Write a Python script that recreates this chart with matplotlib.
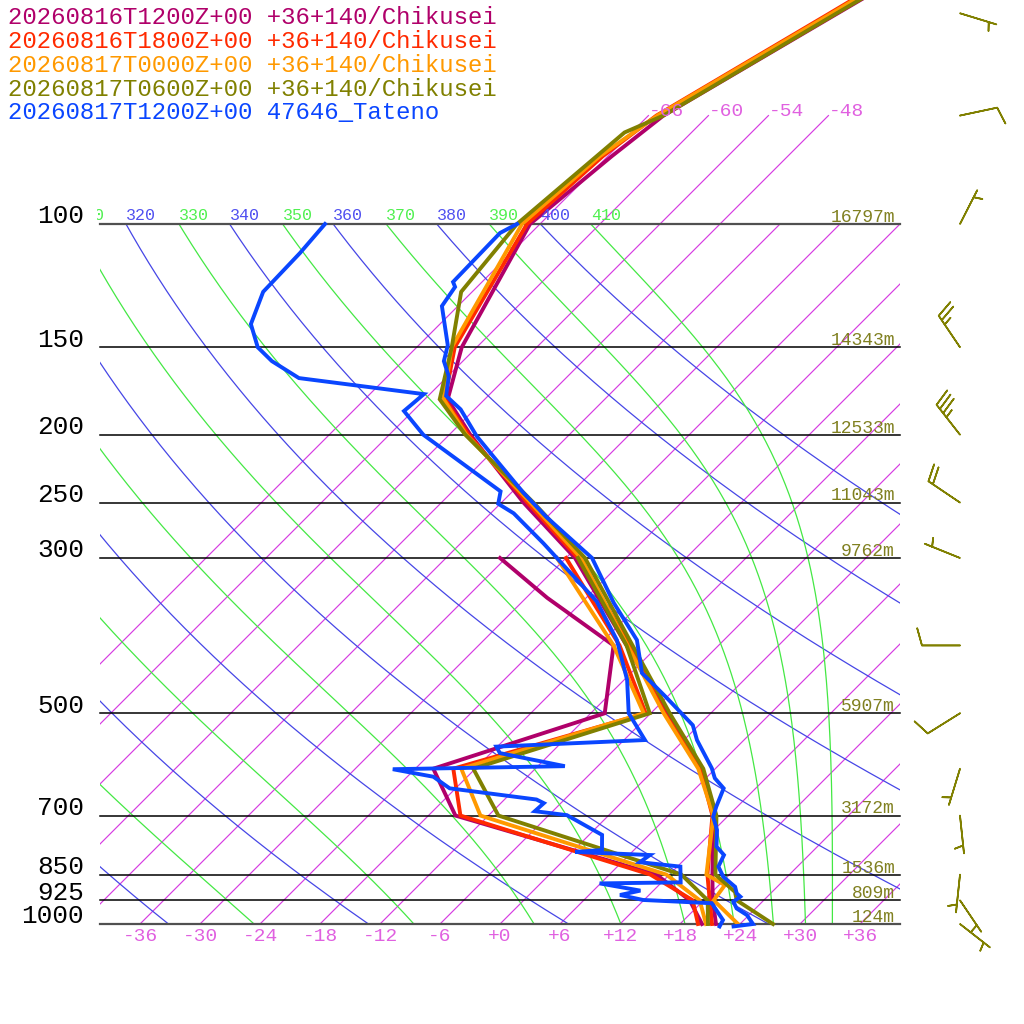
import numpy as np
import matplotlib.pyplot as plt
from matplotlib.transforms import Bbox, TransformedBbox

# sounding data: pressure (hPa) and temperature / dewpoint (deg C)
p_1200 = [1000, 925, 850, 700, 600, 500, 400, 300, 250, 200, 178, 150, 100, 80, 70, 50, 40]
t_1200 = [21.6, 18.9, 16.3, 10.5, 4.7, -4.4, -15.2, -29.1, -39.8, -51.9, -57.7, -61.5, -67.0, -65.6, -64.5, -57.3, -52.5]
pd_1200 = [1000, 925, 850, 700, 600, 500, 400, 342, 300]
td_1200 = [20.2, 16.6, 10.7, -15.3, -22.2, -10.6, -16.5, -27.9, -36.6]

p_1800 = [1000, 925, 850, 700, 600, 500, 400, 300, 250, 200, 178, 150, 100, 80, 70, 50, 40]
t_1800 = [21.2, 18.6, 15.8, 10.4, 4.5, -4.6, -14.9, -28.8, -39.4, -52.1, -58.0, -62.2, -67.3, -66.5, -65.2, -58.1, -53.5]
pd_1800 = [1000, 925, 850, 700, 600, 500, 400, 300]
td_1800 = [19.8, 16.9, 10.1, -14.8, -20.2, -6.5, -15.9, -30.0]

p_0000 = [1000, 925, 880, 850, 700, 600, 500, 400, 300, 250, 200, 178, 150, 100, 80, 70, 50, 40]
t_0000 = [23.8, 19.0, 18.6, 15.7, 10.5, 4.3, -4.7, -15.1, -28.5, -39.1, -52.3, -58.1, -62.5, -67.8, -66.8, -65.1, -57.9, -53.3]
pd_0000 = [1000, 925, 850, 700, 600, 500, 400, 300]
td_0000 = [20.6, 17.6, 11.7, -12.8, -19.4, -6.7, -16.5, -30.9]

p_0600 = [1000, 925, 900, 850, 700, 600, 500, 400, 300, 250, 200, 178, 150, 125, 100, 74, 70, 50, 40]
t_0600 = [27.3, 21.3, 20.3, 16.6, 10.8, 4.8, -4.1, -14.6, -28.1, -38.8, -52.4, -58.5, -62.5, -67.1, -68.3, -66.7, -64.5, -57.4, -52.6]
pd_0600 = [1000, 925, 850, 700, 600, 500, 400, 300]
td_0600 = [20.8, 18.4, 13.2, -11.0, -18.2, -6.1, -15.2, -28.8]

p_obs = [1008, 1000, 971, 950, 929, 914, 904, 885, 856, 828, 797, 775, 734, 703, 680, 640, 619, 599,
         546, 520, 474, 438, 393, 348, 300, 262, 242, 220, 201, 184, 176, 165, 157, 149, 131, 123, 121, 103, 100]
t_obs = [23.6, 25.3, 23.8, 22.1, 21.1, 21.3, 20.6, 19.8, 17.6, 16.1, 15.5, 13.9, 12.3, 10.6, 9.9, 8.8, 6.9, 5.6,
         1.3, -0.6, -6.1, -10.9, -14.7, -20.7, -27.4, -36.1, -40.8, -46.1, -51.1, -55.4, -58.2, -59.9, -61.9, -63.1,
         -67.6, -68.2, -68.9, -69.1, -68.3]
pd_obs = [1008, 987, 934, 924, 909, 896, 875, 872, 828, 816, 797, 789, 784, 746, 699, 690, 672, 664, 640, 616,
          601, 595, 570, 558, 546, 500, 448, 393, 346, 286, 259, 251, 241, 200, 185, 175, 166, 157, 150, 139,
          125, 110, 100]
td_obs = [22.2, 21.9, 19.1, 11.9, 9.1, 10.7, 5.9, 13.9, 12.3, 7.8, 8.1, 0.3, 2.8, 1.3, -4.2, -7.8, -7.7, -8.8,
          -18.6, -21.4, -26.2, -9.3, -17.1, -18.1, -3.9, -8.2, -11.7, -16.7, -22.6, -33.7, -39.7, -42.2, -43.2,
          -56.6, -60.9, -60.6, -74.7, -79.1, -81.9, -84.9, -86.9, -87.1, -87.5]

series_names = ['20260816T1200Z+00 +36+140/Chikusei',
                '20260816T1800Z+00 +36+140/Chikusei',
                '20260817T0000Z+00 +36+140/Chikusei',
                '20260817T0600Z+00 +36+140/Chikusei',
                '20260817T1200Z+00 47646_Tateno']
series_colors = ['#b0006a', '#ff2a00', '#ff9900', '#808000', '#0a46ff']

# winds (olive run): pressure, direction from (deg), speed (kt)
wind_p = [50, 70, 100, 150, 200, 250, 300, 400, 500, 600, 700, 850, 925, 1000]
wind_dir = [107, 78, 27, 326, 322, 304, 292, 270, 238, 197, 174, 186, 146, 128]
wind_spd = [5, 10, 5, 25, 35, 20, 5, 10, 10, 5, 5, 5, 5, 5]

levels = [100, 150, 200, 250, 300, 500, 700, 850, 925, 1000]
heights = ['16797m', '14343m', '12533m', '11043m', '9762m', '5907m', '3172m', '1536m', '809m', '124m']

isotherms = list(range(-66, 37, 6))
isotherm_labels = list(range(-36, 37, 6))
top_isotherms = [-66, -60, -54, -48]
dry_thetas = list(range(240, 401, 20))
moist_thetas = list(range(250, 411, 20))

mono = 'Liberation Mono'


def skew(t, p):
    return np.asarray(t, dtype=float) + 70 * np.log10(1000 / np.asarray(p, dtype=float))


def theta_e_sat(tk, p):
    tc = tk - 273.15
    es = 6.112 * np.exp(17.67 * tc / (tc + 243.5))
    r = 0.622 * es / (p - es)
    return tk * (1000 / p) ** (0.2854 * (1 - 0.28 * r)) * np.exp((3.376 / tk - 0.00254) * r * 1000 * (1 + 0.81 * r))


def moist_temp(theta_e, p):
    # bisection for saturated temperature with given theta-e
    lo = np.full_like(p, 150.0)
    x = np.log(p / 3 / 6.112)
    hi = np.minimum(243.5 * x / (17.67 - x) + 273.15, 330.0)
    for _ in range(60):
        mid = 0.5 * (lo + hi)
        big = theta_e_sat(mid, p) > theta_e
        hi = np.where(big, mid, hi)
        lo = np.where(big, lo, mid)
    return 0.5 * (lo + hi) - 273.15


fig = plt.figure(figsize=(10.24, 10.24), dpi=100)
ax = fig.add_axes([100 / 1024, 100 / 1024, 800 / 1024, 700 / 1024])
ax.set_yscale('log')
ax.set_xlim(-40, 40)
ax.set_ylim(1000, 100)
ax.axis('off')

label_clip = TransformedBbox(Bbox([[-0.004, 0], [2, 2]]), ax.transAxes)
iso_col = '#d63ce2'


def theta_label(txt, x, col):
    # label sits at the 100 hPa crossing; skip those that fall wholly left of the frame
    if x < -43.5:
        return
    lab = ax.annotate(txt, (x, 100), xytext=(0, 3), textcoords='offset points',
                      annotation_clip=False, color=col, fontsize=12, family=mono,
                      ha='left', va='baseline')
    lab.set_clip_box(label_clip)


# isotherms
for t in isotherms:
    ax.plot(skew([t, t], [1000, 100]), [1000, 100], color=iso_col, lw=0.85)
for t in top_isotherms:
    ax.plot(skew([t, t], [100, 70]), [100, 70], color=iso_col, lw=0.85, clip_on=False)
    ax.text(skew(t, 70), 70, str(t), color='#e060e0', fontsize=14,
            family=mono, ha='left', va='baseline')
for t in isotherm_labels:
    ax.annotate(f'{t:+d}', (t, 1000), xytext=(0, -3), textcoords='offset points', annotation_clip=False,
                color='#e060e0', fontsize=14, family=mono, ha='center', va='top')

pgrid = np.geomspace(1000, 100, 200)
# dry adiabats
for th in dry_thetas:
    tt = th * (pgrid / 1000) ** 0.2857 - 273.15
    ax.plot(skew(tt, pgrid), pgrid, color='#4646e6', lw=0.9)
    theta_label(str(th), skew(tt[-1], 100), '#5050f0')
# moist adiabats
for th in moist_thetas:
    tt = moist_temp(th, pgrid)
    ax.plot(skew(tt, pgrid), pgrid, color='#44e844', lw=0.9)
    theta_label(str(th), skew(tt[-1], 100), '#50f050')

# pressure levels
for lev, h in zip(levels, heights):
    edge = lev in (100, 1000)
    ax.plot([-40, 40], [lev, lev], color='#505050' if edge else 'black', lw=1.6 if edge else 1.1,
            clip_on=False)
    ax.annotate(str(lev), (-41.6, lev), xytext=(0, 0.5), textcoords='offset points', annotation_clip=False,
                fontsize=18.7, family=mono, color='black', ha='right', va='baseline')
    ax.annotate(h, (39.5, lev), xytext=(0, 1.5), textcoords='offset points', annotation_clip=False,
                fontsize=13, family=mono, color='#808020', ha='right', va='baseline')

# profiles
profiles = [(p_1200, t_1200, pd_1200, td_1200),
            (p_1800, t_1800, pd_1800, td_1800),
            (p_0000, t_0000, pd_0000, td_0000),
            (p_0600, t_0600, pd_0600, td_0600),
            (p_obs, t_obs, pd_obs, td_obs)]
for (pt, tt, pdw, tdw), col in zip(profiles, series_colors):
    ax.plot(skew(tt, pt), pt, color=col, lw=2.8, clip_on=False, solid_joinstyle='miter')
    ax.plot(skew(tdw, pdw), pdw, color=col, lw=2.8, clip_on=False, solid_joinstyle='miter')

# wind barbs
wd = np.radians(wind_dir)
u = -np.array(wind_spd) * np.sin(wd)
v = -np.array(wind_spd) * np.cos(wd)
ax.barbs(np.full(len(wind_p), 46.0), wind_p, u, v, color='#808000', length=7.4, linewidth=1.2,
         sizes=dict(spacing=0.14, height=0.45, emptybarb=0.0), clip_on=False)

# legend text
for i, (name, col) in enumerate(zip(series_names, series_colors)):
    fig.text(8 / 1024, 1 - (17 + 24 * i) / 1024, name, color=col, fontsize=17.3, family=mono,
             ha='left', va='center')

fig.savefig('out.png', dpi=100, facecolor='white')
